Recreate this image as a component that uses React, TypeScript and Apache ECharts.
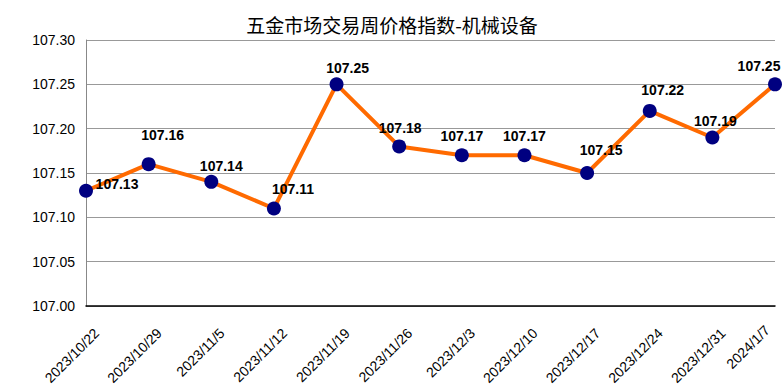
import React, { useEffect, useRef } from "react";
import * as echarts from "echarts";

const categories = [
  "2023/10/22", "2023/10/29", "2023/11/5", "2023/11/12", "2023/11/19", "2023/11/26",
  "2023/12/3", "2023/12/10", "2023/12/17", "2023/12/24", "2023/12/31", "2024/1/7",
];
const values = [107.13, 107.16, 107.14, 107.11, 107.25, 107.18, 107.17, 107.17, 107.15, 107.22, 107.19, 107.25];
const yTicks = { min: 107.0, max: 107.3, interval: 0.05 };
const title = "五金市场交易周价格指数-机械设备";

// label centre offsets [dx, dy] relative to the point centre
const labelOffsets: [number, number][] = [
  [31, -7], [14, -29], [10, -16], [19, -19], [11, -16], [1, -18],
  [0, -19], [0, -19], [14, -23], [13, -21], [3, -17], [-16, -18],
];

export default function App() {
  const ref = useRef<HTMLDivElement>(null);
  useEffect(() => {
    const chart = echarts.init(ref.current!, null, { renderer: "svg" });
    const lastIdx = categories.length - 1;
    chart.setOption({
      animation: false,
      title: {
        text: title,
        left: "center",
        top: 10,
        textStyle: { fontFamily: "Noto Sans CJK SC", fontWeight: "normal", fontSize: 19, color: "#000" },
      },
      grid: { left: 86, right: 9, top: 40, bottom: 85, outerBoundsMode: "none", containLabel: false },
      xAxis: {
        type: "category",
        data: categories.map((c, i) =>
          i === lastIdx
            ? { value: c, textStyle: { verticalAlign: "middle", lineHeight: 14, padding: [0, 11, 0, 0] } }
            : c
        ),
        boundaryGap: false,
        axisLine: { lineStyle: { color: "#000", width: 1.5 } },
        axisTick: { show: false },
        axisLabel: {
          rotate: 45,
          interval: 0,
          fontFamily: "Liberation Sans",
          fontSize: 14,
          color: "#000",
          margin: 14,
          verticalAlign: "top",
          lineHeight: 30,
        },
      },
      yAxis: {
        type: "value",
        min: yTicks.min,
        max: yTicks.max,
        interval: yTicks.interval,
        axisLine: { show: true, lineStyle: { color: "#888" } },
        axisTick: { show: false },
        splitLine: { lineStyle: { color: "#999" } },
        axisLabel: {
          formatter: (v: number) => v.toFixed(2),
          fontFamily: "Liberation Sans",
          fontSize: 14,
          color: "#000",
          margin: 11,
        },
      },
      series: [
        {
          type: "line",
          data: values.map((v, i) => ({
            value: v,
            label: {
              show: true,
              position: "inside",
              offset: labelOffsets[i],
            },
          })),
          symbol: "circle",
          symbolSize: 14,
          lineStyle: { color: "#ff6a00", width: 4 },
          itemStyle: { color: "#000080" },
          label: {
            show: true,
            formatter: (p: any) => Number(p.value).toFixed(2),
            fontFamily: "Liberation Sans",
            fontWeight: "bold",
            fontSize: 14,
            color: "#000",
          },
        },
      ],
    });
    return () => chart.dispose();
  }, []);
  return <div ref={ref} style={{ width: 784, height: 391, position: "absolute", left: 0, top: 0 }} />;
}
